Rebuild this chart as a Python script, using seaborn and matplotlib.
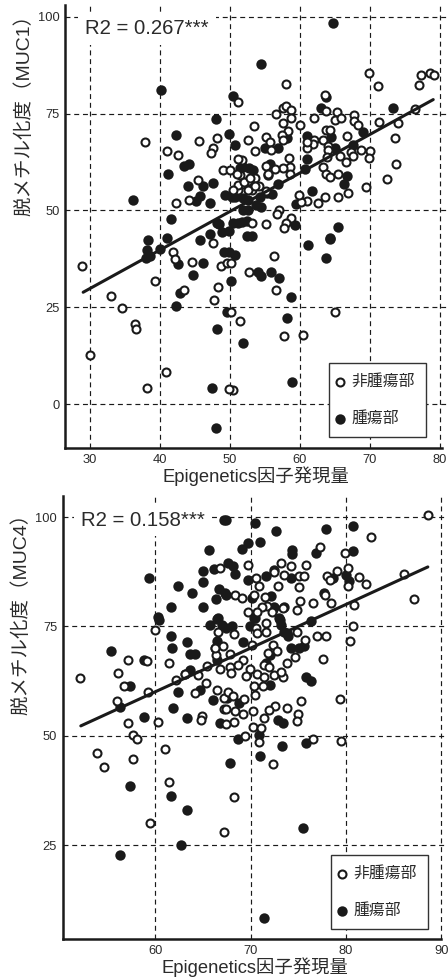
import matplotlib
matplotlib.use("Agg")
import matplotlib.pyplot as plt
import pandas as pd
import seaborn as sns

sns.set_theme(style="white")
plt.rcParams['font.family'] = ['Liberation Sans', 'Noto Sans CJK JP', 'DejaVu Sans']

W, H = 448, 977
INK = '#1a1a1a'
TXT = '#2b2b2b'

NORMAL = '非腫瘍部'
TUMOR = '腫瘍部'
XLABEL = 'Epigenetics因子発現量'

muc1_open = [
 (37.9,67.6),(41.0,65.4),(42.6,64.2),(45.6,68),(48.2,68.8),(47.6,66.2),(47.3,64.7),(45.4,57.9),(44.2,52.7),(42.3,51.8),
 (49,60.4),(28.9,35.6),(41.8,39.2),(42.1,37.5),(47.6,41.6),(44.6,36.6),(48.7,35.6),(39.3,31.8),(48.3,30.3),(43.5,29.4),
 (47.7,27),(33,27.9),(34.5,24.8),(36.4,20.8),(36.5,19.5),(30,12.7),(40.9,8.4),(38.1,4.2),(49.6,36.4),
 (51.2,78),(58,82.6),(63.6,79.9),(69.9,85.4),(71.2,82),(77.3,85),(78.7,85.4),(79.2,85),(77,82.4),(76.5,76.2),(74,72.6),
 (73.6,68.8),(73.7,62),(72.5,58.1),(71.4,72.9),(69.5,56),(66.9,54.5),(65.4,53.6),(63.6,53.6),(62.6,51.8),(61,52.5),
 (60.2,52.3),(59.9,54),(57,50.2),(56.8,49.1),(58.7,48),(58,46.7),(57.8,45.5),(55.2,46.6),(53.2,46.7),(53.5,71.7),
 (56.6,75),(57.6,76.5),(58.1,76.9),(58.8,75.8),(58.8,73.8),(57.6,72.6),(60,72.1),(58.3,70.4),(57.5,69.4),(57.6,68.3),
 (55.1,69),(55.7,67.6),(55.9,65.7),(52.6,68.2),(53.6,65.4),(51.7,63.1),(62.1,73.8),(63.7,75.6),(65.3,75.4),(65,73.3),
 (65.9,73.9),(67.8,74.5),(67.8,73),(68.4,72),(63.7,70.7),(64.3,70.7),(66.7,69.1),(62.1,68.3),(61.9,67.2),(61,66.1),
 (61.1,67.6),(63.3,68.3),(64,66.6),(64,65.5),(63.9,63.8),(65.8,64),(66.6,62.4),(67.3,65),(67.6,64),(68.8,65.5),
 (70.1,65.3),(69.9,63.5),(58.5,63.6),(58.6,61.1),(57.6,61),(56.4,60.7),(55.1,61.4),(55.5,59.5),(58.6,59.5),(63.3,61.1),
 (63.7,59.5),(64.3,58.7),(65.4,59.3),(50,60.4),(51.5,59.2),(51.7,56.7),(52.6,57.5),(53.6,58.4),(54.1,56.4),(53.2,55.2),
 (51.1,55.2),(55.1,54.9),(56.3,38.3),(50.1,36.4),(52.8,34),(56.6,29.5),(50.2,23.7),(51.5,21.5),(57.8,17.5),(60.4,18),
 (65,23.9),(50.5,3.7),(49.9,3.9),(51.1,63.3),(51,59.3),(51.1,56.5),(50.4,55.2),(52,57.4),(52.6,55.2),(53.6,56.3),(52.9,58.4),
]
muc1_filled = [
 (40.2,81.1),(48,73.5),(42.3,69.5),(44.1,62.1),(43.5,61.4),(41.2,59.3),(47.6,57.1),(44,56.2),(46.1,56.2),(36.2,52.8),
 (45.7,53.7),(45.2,52.5),(47.2,52),(41.5,47.9),(48.4,46.6),(38.3,42.3),(41,42.9),(45.7,42.5),(47.1,43.8),(38.1,39.9),
 (40,40.1),(38,37.8),(38.6,38.2),(49.2,39.2),(42.6,36.3),(46.1,36.4),(44.7,33.4),(42.8,28.7),(42.3,25.4),(49.6,23.9),
 (48.1,19.4),(47.4,4.2),(48,-6),(64.7,98.4),(54.4,87.8),(50.5,79.4),(63.7,79.2),(63.1,76.4),(49.9,69.8),(50.8,67),
 (58.2,68.8),(73.3,76.5),(69.1,70.2),(61,69.2),(64.5,69),(55,66.1),(56.9,66.1),(65,66),(67.6,67),(61,63.3),
 (55.7,62.1),(51.9,61.1),(53.3,60.5),(55.5,59.2),(60.7,60.8),(66.7,59),(66.4,56.7),(56.9,56.8),(50.7,53.6),(56,54.2),
 (52.6,52.8),(54.3,53.6),(52.6,50.2),(54.5,51),(59.5,51.7),(61.7,54.9),(51.2,46.7),(52.4,47.2),(59.3,46.2),(65.4,45.7),
 (53.1,43.5),(64.3,42.8),(49.8,44.6),(61.2,41.1),(64.3,42.6),(63.8,37.7),(50.7,38.6),(49.8,39.2),(50.1,31.7),(54,34),
 (54.5,33.2),(55.9,34.1),(57,32.5),(58.7,27.8),(58.2,22.2),(51.9,15.7),(58.9,5.7),(51.4,61),(52.8,61),(49.3,53.9),
 (50.3,53.5),(51.9,53.2),(53.8,51.3),(51.9,50.2),(55.3,54.4),(48.2,46.8),(48.8,44.4),(50.5,46.8),(51.7,46.9),(52.4,43.5),
]
muc4_open = [
 (52.1,63.2),(57.2,67.3),(59.1,67.2),(56.1,64.4),(61.5,66.6),(60,74.3),(56.7,61.5),(59.2,60),(56,57.9),(62.2,62.7),
 (63.1,64.1),(64.5,63.9),(65.3,62),(64.2,59.7),(65.4,66),(66.5,60.4),(66.3,70.2),(66.4,68.5),(66.8,65.3),(66.8,88.4),
 (57.1,52.9),(60.3,53.2),(64.9,54.6),(64.8,53.6),(67.2,58.6),(67.2,56.1),(88.6,100.5),(82.6,95.4),(77.3,93.1),(79.9,91.7),
 (69.7,89),(73.2,89.4),(74.2,88.9),(75.8,89),(80.2,88.4),(79.1,87.6),(78,86.5),(78.3,85.6),(81.4,86.4),(82.1,84.7),
 (80.2,84.3),(86.1,87.1),(87.2,81.3),(80.9,80),(72.5,87.5),(73.5,86.7),(70.6,86),(70.9,84.3),(72.9,84.2),(75.1,86.5),
 (75.6,86.5),(75.1,84.1),(68.4,82.2),(69.1,81.6),(70.4,82.2),(71.5,81.7),(77.8,82.2),(75.2,80.9),(76.6,80.3),(78.4,80.4),
 (74.9,78.7),(73.4,79.3),(71.7,79.6),(71.2,79.5),(69.7,78.2),(70.7,78.3),(72.3,78.2),(71.6,75.7),(70.6,74.6),(71.6,73.8),
 (70.7,73.4),(68.3,73.2),(74.9,73.7),(77,72.9),(77.9,72.9),(80.7,75.2),(80.4,71.8),(75.7,72),(72.4,70.8),(70.2,70.8),
 (72.8,69.3),(71.8,68.9),(67.9,68.7),(74.7,68),(77.6,67.5),(73.8,66.6),(69.2,67.4),(68.7,66.2),(67.8,65.8),(69.9,65.3),
 (71.4,66.2),(71.9,65.7),(68,64.3),(69.5,63.8),(70.7,64.1),(71.4,63.4),(72.5,63.9),(73.4,63.5),(73.2,64.5),(70.4,61.3),
 (71.3,61.3),(70.5,59.4),(67.6,60.1),(68.2,59.1),(69.3,58.4),(79.4,58.4),(75.3,57.9),(72.6,56.9),(71.9,55.9),(73.8,56.4),
 (70.3,55.6),(67.4,56.1),(68.4,55.8),(69.2,55),(71.4,54.1),(75,55),(74.9,53.4),(68.3,53.1),(67.4,52.7),(70.3,52),
 (71.1,51.8),(57.7,50.3),(58.1,49.4),(53.9,46.2),(54.6,42.8),(57.7,44.8),(61,47.1),(61.5,39.5),(59.5,30.1),(67.2,28),
 (69.4,50),(70.9,48.6),(76.6,49.3),(79.5,48.9),(72.4,43.7),(68.3,36.1),(63.1,64.2),(67.1,70.6),(66.3,70.2),(66.6,73.8),
]
muc4_filled = [
 (67.2,99.3),(65.6,92.5),(59.4,86),(65,87.7),(66.2,88.2),(65,85.2),(62.4,84.2),(63.9,82.7),(66.7,83.5),(66.4,81.2),
 (61.7,79.4),(65,79.5),(60.3,77.2),(60.4,76.5),(66.5,76.6),(65.8,75.3),(67,75.3),(61.7,72.9),(63.3,71.5),(66.5,71.8),
 (61.8,70.1),(55.4,69.5),(63.7,68.7),(64.2,68.7),(58.8,67.4),(63.7,65.1),(57.4,61.5),(66.5,67.4),(62.4,60.1),(64.7,60.5),
 (66.1,58.1),(56.3,56.7),(61.9,56.3),(58.8,54.4),(63.3,54.2),(66.8,52.9),(67.4,99.3),(70.5,98.6),(72.7,96.7),(77.9,97.2),
 (80.8,98),(71,94.4),(69.7,94.1),(69.1,92.7),(74.4,92.5),(74.4,91.5),(76.9,91.7),(80.8,92.3),(67.6,89.6),(68.2,88.7),
 (68.4,87.1),(69.7,85.6),(71.6,86.5),(72.5,87.9),(74.2,86),(78.6,86),(80,86.8),(80.3,85.5),(77.7,82.7),(72.1,82),
 (70.2,81.4),(67.4,82.2),(72.5,79.4),(73.5,79.5),(70.4,76.9),(73,76.9),(73.2,75.3),(76.3,76.2),(69.9,75),(68.1,75),
 (67.4,74.6),(73.5,73.8),(73.9,72.9),(69.2,71.4),(74.2,70),(75.1,70),(75.6,70.6),(72,68.5),(71.6,66.6),(75.8,63.5),
 (76.3,62.6),(72,61.6),(68.8,57.5),(67.5,58.6),(72.9,53.7),(73.4,52.9),(57.4,38.5),(61.7,36.2),(63.3,33.1),(62.7,25.1),
 (56.3,22.9),(68.7,49.3),(70.9,50.2),(73.3,47.7),(75.8,48.5),(71,45.5),(67.9,43.8),(75.5,29),(71.4,8.4),(66.6,76.9),
 (67.3,82.6),(72.4,79.1),(73.1,76.5),(73.8,73.4),(70.5,76.9),
]

muc1_fit_x, muc1_fit_y = [29.0, 79.1], [28.9, 78.6]
muc4_fit_x, muc4_fit_y = [52.2, 88.6], [52.3, 88.6]
muc1_xticks = [30, 40, 50, 60, 70, 80]
muc4_xticks = [60, 70, 80, 90]
muc1_yticks = [0, 25, 50, 75, 100]
muc4_yticks = [25, 50, 75, 100]


def frame(points):
    return pd.DataFrame(points, columns=['x', 'y'])


def panel(box, xlim, ylim, bound, xticks, yticks, filled, opened, fit_x, fit_y,
          r2, r2_xy, ylabel, ylab_xy, xlab_xy, legend_xy):
    l, t, r, b = box
    ax = plt.gcf().add_axes([l / W, 1 - b / H, (r - l) / W, (b - t) / H])
    ax.set_xlim(*xlim)
    ax.set_ylim(*ylim)
    ax.set_axisbelow(True)
    ax.grid(True, color=INK, lw=0.85, linestyle=(0, (4.2, 3.2)))
    sns.scatterplot(data=frame(filled), x='x', y='y', ax=ax, s=56, color=INK,
                    linewidth=0, label=TUMOR, zorder=3, legend=False)
    sns.scatterplot(data=frame(opened), x='x', y='y', ax=ax, s=33, facecolor='white',
                    edgecolor=INK, linewidth=1.5, label=NORMAL, zorder=3.2, legend=False)
    sns.lineplot(x=fit_x, y=fit_y, ax=ax, color=INK, lw=2.2, zorder=3.5, legend=False)
    sns.despine(ax=ax)
    ax.spines['left'].set_linewidth(1.8)
    ax.spines['bottom'].set_linewidth(1.8)
    for s in ('left', 'bottom'):
        ax.spines[s].set_color(INK)
    ax.spines['bottom'].set_bounds(xlim[0], bound)
    ax.set_xticks(xticks)
    ax.set_yticks(yticks)
    ax.tick_params(axis='x', length=2, width=0.8, color=INK, labelsize=9.3, labelcolor=TXT, pad=2.8)
    ax.tick_params(axis='y', length=3.5, width=0.8, color=INK, labelsize=9.3, labelcolor=TXT, pad=0.5)
    ax.set_xlabel('')
    ax.set_ylabel('')
    fig = plt.gcf()
    fig.text(r2_xy[0] / W, 1 - r2_xy[1] / H, r2, fontsize=14.7, color=TXT, ha='left', va='center',
             bbox=dict(fc='white', ec='none', pad=5), zorder=5)
    fig.text(ylab_xy[0] / W, 1 - ylab_xy[1] / H, ylabel, rotation=90, fontsize=14, color=TXT,
             ha='center', va='center')
    fig.text(xlab_xy[0] / W, 1 - xlab_xy[1] / H, XLABEL, fontsize=13.2, color=TXT, ha='center', va='center')
    hs, ls = ax.get_legend_handles_labels()
    order = [ls.index(NORMAL), ls.index(TUMOR)]
    lx, ly = legend_xy
    leg = ax.legend([hs[i] for i in order], [ls[i] for i in order],
                    loc='lower left',
                    bbox_to_anchor=((lx - l) / (r - l), (b - ly) / (b - t)),
                    borderaxespad=0, fontsize=11.4, frameon=True, fancybox=False,
                    framealpha=1, edgecolor='#333333', handlelength=0, handletextpad=0.7,
                    labelspacing=1.4, borderpad=0.7, labelcolor=TXT)
    leg.get_frame().set_linewidth(1.0)
    leg.set_zorder(6)
    return ax


fig = plt.figure(figsize=(W / 100, H / 100), dpi=100, facecolor='white')

panel((65, 5, 447, 447.7), (26.4, 81.07), (-11.2, 103), 80.4, muc1_xticks, muc1_yticks,
      muc1_filled, muc1_open, muc1_fit_x, muc1_fit_y, 'R2 = 0.267***', (85, 29),
      '脱メチル化度（MUC1）', (24, 110.5), (256, 476), (329, 437))
panel((62.7, 496, 445, 938.7), (50.3, 90.4), (3.7, 104.8), 90, muc4_xticks, muc4_yticks,
      muc4_filled, muc4_open, muc4_fit_x, muc4_fit_y, 'R2 = 0.158***', (81, 520),
      '脱メチル化度（MUC4）', (21, 609.5), (254.5, 967), (331, 929))

fig.savefig('out.png', dpi=100, facecolor='white')
